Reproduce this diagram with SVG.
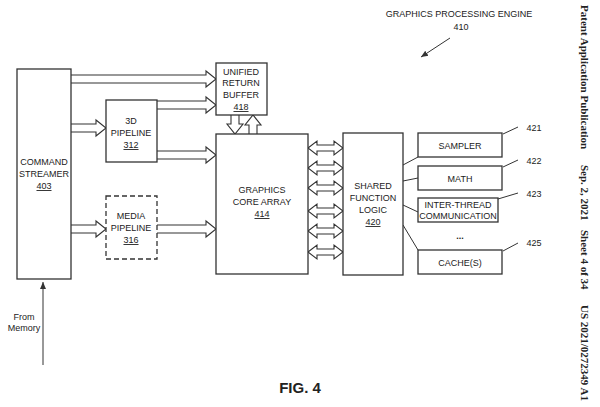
<svg xmlns="http://www.w3.org/2000/svg" width="600" height="407" viewBox="0 0 600 407">
<style>
text{font-family:"Liberation Sans",Arial,sans-serif;font-size:9px;fill:#222;text-anchor:middle}
text.s{font-family:"Liberation Serif","Times New Roman",serif;font-size:11px;font-weight:bold;text-anchor:start}
.b{fill:#fff;stroke:#333;stroke-width:1.3}
.a{fill:#fff;stroke:#333;stroke-width:1.1}
.l{fill:none;stroke:#333;stroke-width:1}
.u{text-decoration:underline}
</style>
<defs><marker id="m" markerWidth="8" markerHeight="8" refX="7" refY="4" orient="auto"><path d="M0,1 L7,4 L0,7 Z" fill="#333"/></marker></defs>
<rect width="600" height="407" fill="#fff"/>
<g id="connectors">
<path class="a" d="M71,75 H206 V71 L216,79 L206,87 V83 H71"/>
<path class="a" d="M71,124 H96 V120 L106,128 L96,136 V132 H71"/>
<path class="a" d="M157,101 H206 V97 L216,105 L206,113 V109 H157"/>
<path class="a" d="M157,151 H206 V147 L216,155 L206,163 V159 H157"/>
<path class="a" d="M71,225 H96 V221 L106,229 L96,237 V233 H71"/>
<path class="a" d="M157,225 H206 V221 L216,229 L206,237 V233 H157"/>
<path class="a" d="M231,115 V124 H227 L235,134 L243,124 H239 V115"/>
<path class="a" d="M249,134 V125 H245 L253,115 L261,125 H257 V134"/>
<g id="bi">
<path class="a" d="M308,148 L317,141 V145 H334 V141 L343,148 L334,155 V151 H317 V155 Z"/>
</g>
<use href="#bi" y="20"/><use href="#bi" y="40"/><use href="#bi" y="63"/><use href="#bi" y="83"/><use href="#bi" y="104"/>
<path class="l" d="M403,165 L418,157 M403,181 L418,178 M403,205 L418,212 M403,225 L418,250"/>
<path class="l" d="M503,134 L518,127 M503,167 L518,160 M498,199 L518,193 M503,251 L518,243"/>
<path class="l" d="M43,365 V282" marker-end="url(#m)"/>
<path class="l" d="M450,38 L421,57" marker-end="url(#m)"/>
</g>
<g id="cs"><rect class="b" x="17" y="69" width="54" height="210"/><text x="44" y="165">COMMAND</text><text x="44" y="177">STREAMER</text><text x="44" y="189" class="u">403</text></g>
<g id="urb"><rect class="b" x="216" y="63" width="51" height="52"/><text x="241" y="75">UNIFIED</text><text x="241" y="86">RETURN</text><text x="241" y="98">BUFFER</text><text x="241" y="110" class="u">418</text></g>
<g id="p3d"><rect class="b" x="106" y="100" width="51" height="62"/><text x="131" y="124">3D</text><text x="131" y="136">PIPELINE</text><text x="131" y="148" class="u">312</text></g>
<g id="media"><rect class="b" x="106" y="196" width="51" height="63" stroke-dasharray="5,3"/><text x="131" y="219">MEDIA</text><text x="131" y="231">PIPELINE</text><text x="131" y="243" class="u">316</text></g>
<g id="gca"><rect class="b" x="216" y="134" width="92" height="140"/><text x="262" y="193">GRAPHICS</text><text x="262" y="205">CORE ARRAY</text><text x="262" y="217" class="u">414</text></g>
<g id="sfl"><rect class="b" x="343" y="133" width="60" height="142"/><text x="373" y="189">SHARED</text><text x="373" y="201">FUNCTION</text><text x="373" y="213">LOGIC</text><text x="373" y="225" class="u">420</text></g>
<g id="sampler"><rect class="b" x="418" y="133" width="84" height="24"/><text x="460" y="149">SAMPLER</text></g>
<g id="math"><rect class="b" x="418" y="166" width="84" height="24"/><text x="460" y="182">MATH</text></g>
<g id="itc"><rect class="b" x="418" y="198" width="80" height="24"/><text x="458" y="208">INTER-THREAD</text><text x="458" y="219">COMMUNICATION</text></g>
<text x="460" y="239" style="font-weight:bold">...</text>
<g id="cache"><rect class="b" x="418" y="250" width="84" height="24"/><text x="460" y="266">CACHE(S)</text></g>
<text x="534" y="131">421</text><text x="534" y="164">422</text><text x="534" y="197">423</text><text x="534" y="246">425</text>
<text x="459" y="17">GRAPHICS PROCESSING ENGINE</text><text x="461" y="30">410</text>
<text x="24" y="320">From</text><text x="24" y="331">Memory</text>
<text x="300" y="393" style="font-size:15px;font-weight:bold">FIG. 4</text>
<text class="s" transform="translate(581,5) rotate(90)">Patent Application Publication</text>
<text class="s" transform="translate(581,165) rotate(90)">Sep. 2, 2021</text>
<text class="s" transform="translate(581,230) rotate(90)">Sheet 4 of 34</text>
<text class="s" transform="translate(581,305) rotate(90)">US 2021/0272349 A1</text>
</svg>
